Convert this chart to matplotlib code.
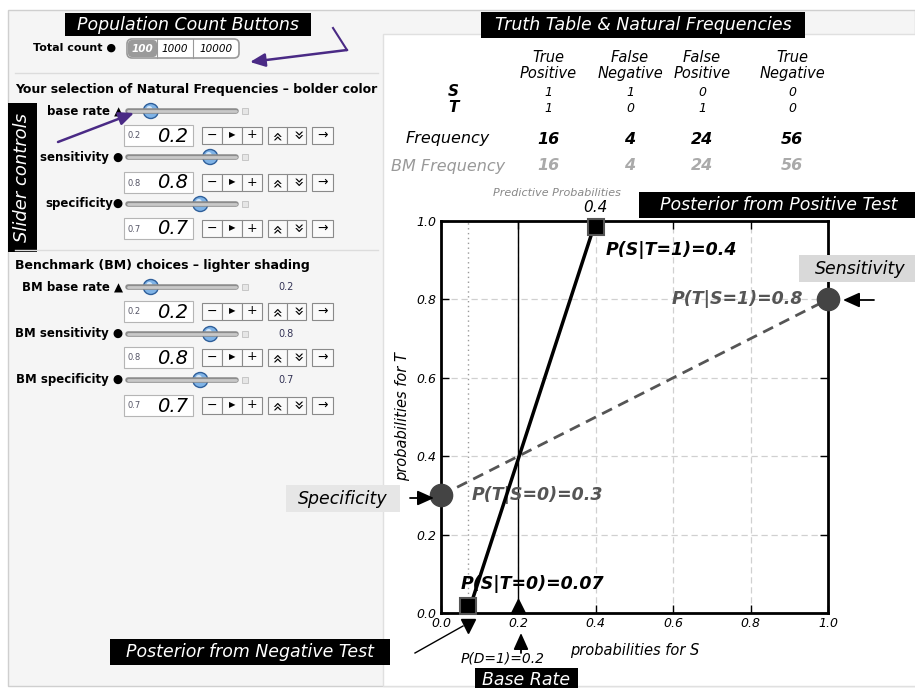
import matplotlib.pyplot as plt
from matplotlib.patches import Rectangle, FancyBboxPatch, Circle

# values
total_counts = ['100', '1000', '10000']
slider_names = ['base rate \u25b2', 'sensitivity \u25cf', 'specificity\u25cf']
bm_names = ['BM base rate \u25b2', 'BM sensitivity \u25cf', 'BM specificity \u25cf']
slider_vals = [0.2, 0.8, 0.7]        # base rate, sensitivity, specificity
bm_vals = [0.2, 0.8, 0.7]
col_names = ['True\nPositive', 'False\nNegative', 'False\nPositive', 'True\nNegative']
s_row = [1, 1, 0, 0]
t_row = [1, 0, 1, 0]
freq = [16, 4, 24, 56]
bm_freq = [16, 4, 24, 56]
post_pos = 0.4      # P(S|T=1)
post_neg = 0.07     # P(S|T=0)
ticks = [0.0, 0.2, 0.4, 0.6, 0.8, 1.0]

base_rate, sens, spec = slider_vals

W, H = 915, 688
fig = plt.figure(figsize=(W/100, H/100), dpi=100)

bg = fig.add_axes([0, 0, 1, 1], zorder=0)
bg.set_xlim(0, W); bg.set_ylim(H, 0); bg.axis('off')
fg = fig.add_axes([0, 0, 1, 1], zorder=3)
fg.set_xlim(0, W); fg.set_ylim(H, 0); fg.axis('off')
fg.patch.set_alpha(0)

purple = '#4a2a85'

def black_label(a, x0, y0, x1, y1, txt, size=12.5, rot=0):
    a.add_patch(Rectangle((x0, y0), x1-x0, y1-y0, fc='black', ec='none', clip_on=False))
    a.text((x0+x1)/2, (y0+y1)/2, txt, color='white', style='italic', fontsize=size,
           ha='center', va='center', rotation=rot)

# panels
bg.add_patch(Rectangle((8, 10), 907, 676, fc='#f5f5f5', ec='#cfcfcf', lw=1))
bg.add_patch(Rectangle((383, 34), 540, 652, fc='white', ec='#e0e0e0', lw=1))

# ---- left side controls ----
black_label(bg, 65, 13, 311, 36, 'Population Count Buttons', 12.5)
bg.text(33, 48, 'Total count \u25cf', fontsize=8, fontweight='bold', va='center')
bg.add_patch(FancyBboxPatch((127, 39), 112, 19, boxstyle='round,pad=0,rounding_size=5',
                            fc='white', ec='#999', lw=1.2))
bg.add_patch(FancyBboxPatch((128, 40), 29, 17, boxstyle='round,pad=0,rounding_size=4',
                            fc='#9a9a9a', ec='none'))
for xd in [157, 193]:
    bg.plot([xd, xd], [39, 58], color='#999', lw=0.8)
for xc, lab in zip([142, 175, 216], total_counts):
    bg.text(xc, 48.5, lab, fontsize=7.5, style='italic', va='center', ha='center',
            color='white' if lab == '100' else 'black',
            fontweight='bold' if lab == '100' else 'normal')

bg.plot([15, 378], [73, 73], color='#dcdcdc', lw=1)
bg.plot([15, 378], [250, 250], color='#dcdcdc', lw=1)
bg.text(15, 89, 'Your selection of Natural Frequencies \u2013 bolder color',
        fontsize=9, fontweight='bold', va='center')
bg.text(15, 266, 'Benchmark (BM) choices \u2013 lighter shading',
        fontsize=9, fontweight='bold', va='center')


def slider(y, v):
    bg.plot([128, 236], [y, y], color='#8c8c8c', lw=4, solid_capstyle='round')
    bg.plot([128, 236], [y, y], color='#c8c8c8', lw=2, solid_capstyle='round')
    bg.add_patch(Circle((131 + v*99, y), 7.5, fc='#7fb3e6', ec='#2f5f9a', lw=1))
    bg.add_patch(Circle((131 + v*99 - 1.5, y - 2), 3, fc='#d6e8fa', ec='none'))
    bg.add_patch(Rectangle((242, y-3), 6, 6, fc='#e6e6e6', ec='#c0c0c0', lw=0.6))


def input_row(y, v):
    bg.add_patch(Rectangle((124, y-10.5), 69, 21, fc='white', ec='#b5b5b5', lw=0.8))
    bg.text(128, y+1, str(v), fontsize=6, color='#556', va='center')
    bg.text(188, y+1, str(v), fontsize=14, style='italic', va='center', ha='right')
    cells = [(202, 222, '\u2212'), (222, 242, '\u25b6'), (242, 262, '+'),
             (268, 287, '\u00bb'), (287, 306, '\u00bb'), (312, 333, '\u2192')]
    for i, (x0, x1, s) in enumerate(cells):
        bg.add_patch(Rectangle((x0, y-8.5), x1-x0, 17, fc='#fafafa', ec='#8a8a8a', lw=0.8))
        rot = 90 if i == 3 else (-90 if i == 4 else 0)
        fs = 6 if s == '\u25b6' else (12 if s == '\u00bb' else 9)
        bg.text((x0+x1)/2, y, s, fontsize=fs, ha='center', va='center', rotation=rot,
                rotation_mode='anchor')


for name, v, yl, yb in zip(slider_names, slider_vals, [111, 157, 204], [135, 182, 228]):
    bg.text(123, yl, name, fontsize=8.5, fontweight='bold', ha='right', va='center')
    slider(yl, v)
    input_row(yb, v)

for name, v, yl, yb in zip(bm_names, bm_vals, [287, 334, 380], [311, 357, 405]):
    bg.text(123, yl, name, fontsize=8.5, fontweight='bold', ha='right', va='center')
    slider(yl, v)
    bg.text(286, yl, str(v), fontsize=7, color='#335', ha='center', va='center')
    input_row(yb, v)

black_label(bg, 8, 103, 37, 252, 'Slider controls', 13, rot=90)

# purple arrows
bg.plot([333, 347], [28, 50], color=purple, lw=1.5)
bg.annotate('', xy=(250, 62), xytext=(347, 50),
            arrowprops=dict(arrowstyle='-|>,head_length=0.9,head_width=0.4', color=purple,
                            lw=1.8, shrinkA=0, shrinkB=0))
bg.annotate('', xy=(134, 113), xytext=(58, 142),
            arrowprops=dict(arrowstyle='-|>,head_length=0.9,head_width=0.4', color=purple,
                            lw=1.8, shrinkA=0, shrinkB=0))

# ---- truth table ----
black_label(bg, 481, 12, 805, 38, 'Truth Table & Natural Frequencies', 12.5)
col_x = [548, 630, 702, 792]
for xc, c, s, t, f, b in zip(col_x, col_names, s_row, t_row, freq, bm_freq):
    bg.text(xc, 65.5, c, fontsize=10.5, style='italic', ha='center', va='center', linespacing=1.05)
    bg.text(xc, 92, str(s), fontsize=9, style='italic', ha='center', va='center')
    bg.text(xc, 108, str(t), fontsize=9, style='italic', ha='center', va='center')
    bg.text(xc, 139, str(f), fontsize=11.5, style='italic', fontweight='bold', ha='center', va='center')
    bg.text(xc, 166, str(b), fontsize=11.5, style='italic', fontweight='bold', ha='center',
            va='center', color='#aaaaaa')
bg.text(453, 92, 'S', fontsize=11, style='italic', fontweight='bold', ha='center', va='center')
bg.text(453, 108, 'T', fontsize=11, style='italic', fontweight='bold', ha='center', va='center')
bg.text(448, 139, 'Frequency', fontsize=11.5, style='italic', ha='center', va='center')
bg.text(448, 166, 'BM Frequency', fontsize=11.5, style='italic', ha='center', va='center', color='#999999')
bg.text(557, 193, 'Predictive Probabilities', fontsize=8, style='italic', ha='center',
        va='center', color='#888888')

# ---- plot ----
ax = fig.add_axes([441/W, (H-613)/H, 387/W, 392/H], zorder=2)
ax.set_xlim(0, 1); ax.set_ylim(0, 1)
ax.set_xticks(ticks); ax.set_yticks(ticks)
ax.set_xticklabels([f'{t:.1f}' for t in ticks], fontstyle='italic', fontsize=9)
ax.set_yticklabels([f'{t:.1f}' for t in ticks], fontstyle='italic', fontsize=9)
ax.tick_params(direction='in', top=True, right=True, length=6, width=1, pad=3)
for sp in ax.spines.values():
    sp.set_linewidth(2)
ax.grid(color='#d0d0d0', ls=(0, (5, 3)), lw=0.9)
ax.set_xlabel('probabilities for S', fontstyle='italic', fontsize=10.5, labelpad=9)
ax.set_ylabel('probabilities for T', fontstyle='italic', fontsize=10.5, labelpad=5)

ax.axvline(post_neg, color='#999999', lw=1, ls=(0, (1, 2.5)))
ax.axvline(base_rate, color='black', lw=1)
ax.plot([0, 1], [1 - spec, sens], color='#555555', lw=2, ls=(0, (4, 2.5)), zorder=3)
ax.plot([post_neg, post_pos], [0, 1], color='black', lw=2.5, zorder=4)
ax.plot([post_pos, post_neg], [0.985, 0.018], 's', ms=12, mfc='black', mec='#555555', mew=1.5,
        clip_on=False, zorder=6)
ax.plot([0, 1], [1 - spec, sens], 'o', ms=16, color='#444444', clip_on=False, zorder=6)
ax.plot([base_rate], [0.017], '^', ms=10, color='black', clip_on=False, zorder=6)
ax.plot([post_neg], [-0.033], 'v', ms=10, color='black', clip_on=False, zorder=6)

bt = dict(fontsize=12.5, style='italic', fontweight='bold', va='center')
ax.text(0.425, 0.925, f'P(S|T=1)={post_pos}', color='black', ha='left', **bt)
ax.text(0.935, sens, f'P(T|S=1)={sens}', color='#555555', ha='right', **bt)
ax.text(0.078, 1 - spec, f'P(T|S=0)={round(1 - spec, 2)}', color='#555555', ha='left', **bt)
ax.text(0.052, 0.073, f'P(S|T=0)={post_neg}', color='black', ha='left', zorder=7, **bt)
ax.annotate(f'{post_pos}', xy=(post_pos, 1), xytext=(0, 4), textcoords='offset points',
            ha='center', va='bottom', fontsize=11, style='italic')
ax.annotate(f'P(D=1)={base_rate}', xy=(base_rate, 0), xytext=(-11, -33),
            textcoords='offset points', ha='center', va='center', fontsize=10, style='italic')

# ---- foreground labels and arrows ----
black_label(fg, 639, 192, 918, 218, 'Posterior from Positive Test', 12.5)
black_label(fg, 110, 639, 390, 665, 'Posterior from Negative Test', 12.5)
black_label(fg, 475, 668, 578, 692, 'Base Rate', 12.5)
fg.add_patch(Rectangle((799, 255), 118, 27, fc='#d9d9d9', ec='none'))
fg.text(860, 268.5, 'Sensitivity', fontsize=12.5, style='italic', ha='center', va='center')
fg.add_patch(Rectangle((286, 485), 114, 27, fc='#e6e6e6', ec='none'))
fg.text(343, 498.5, 'Specificity', fontsize=12.5, style='italic', ha='center', va='center')

ahead = dict(arrowstyle='-|>,head_length=1.0,head_width=0.45', color='black', lw=1.3,
             shrinkA=0, shrinkB=0)
fg.annotate('', xy=(843, 300), xytext=(874, 300), arrowprops=ahead)
fg.annotate('', xy=(434, 498), xytext=(410, 498), arrowprops=ahead)
fg.annotate('', xy=(521, 633), xytext=(521, 653), arrowprops=ahead)
fg.plot([415, 463], [653, 626], color='black', lw=1)

fig.savefig('out.png', dpi=100)
